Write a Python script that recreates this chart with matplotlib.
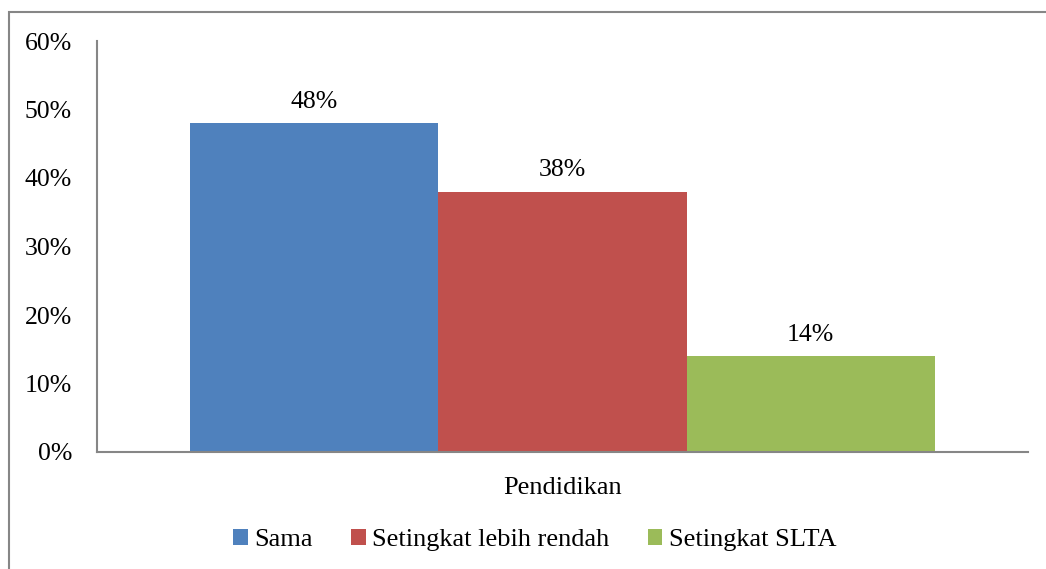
import matplotlib.pyplot as plt
from matplotlib.patches import Rectangle
from matplotlib.ticker import FuncFormatter

plt.rcParams['font.family'] = ['Liberation Serif', 'DejaVu Serif']

# data
category = "Pendidikan"
series = ["Sama", "Setingkat lebih rendah", "Setingkat SLTA"]
values = [0.48, 0.38, 0.14]
colors = ["#4F81BD", "#C0504D", "#9BBB59"]
yticks = [0, 0.1, 0.2, 0.3, 0.4, 0.5, 0.6]

fig = plt.figure(figsize=(10.46, 5.69), dpi=100)
ax = fig.add_axes([97 / 1046, 1 - 452 / 569, 931 / 1046, 411 / 569])

# outer chart frame (runs off right/bottom edge like the source)
fig.patches.append(Rectangle((9 / 1046, -0.1), 1.2, 1.1 - 12 / 569,
                             transform=fig.transFigure, fill=False,
                             edgecolor="#868686", linewidth=1.5))

width = 0.8 / 3
handles = []
for i, (name, v, c) in enumerate(zip(series, values, colors)):
    x = (i - 1) * width
    b = ax.bar(x, v, width=width, color=c, label=name)
    handles.append(b)
    ax.text(x, v + 0.015, f"{v:.0%}", ha="center", va="bottom", fontsize=18.5)

ax.set_xlim(-0.5, 0.5)
ax.set_ylim(0, 0.6)
ax.set_yticks(yticks)
ax.yaxis.set_major_formatter(FuncFormatter(lambda y, _: f"{y:.0%}"))
ax.set_xticks([0])
ax.set_xticklabels([category])
ax.tick_params(axis="y", length=0, pad=18, labelsize=18.5)
ax.tick_params(axis="x", length=0, pad=18, labelsize=19)

for s in ["top", "right"]:
    ax.spines[s].set_visible(False)
for s in ["left", "bottom"]:
    ax.spines[s].set_color("#868686")
    ax.spines[s].set_linewidth(1.5)

fig.legend(handles=handles, labels=series, loc="center",
           bbox_to_anchor=(535 / 1046, 1 - 540 / 569), ncol=3, frameon=False,
           fontsize=19, handlelength=0.55, handleheight=0.55, handletextpad=0.25,
           columnspacing=1.45)

fig.savefig("out.png", dpi=100)
